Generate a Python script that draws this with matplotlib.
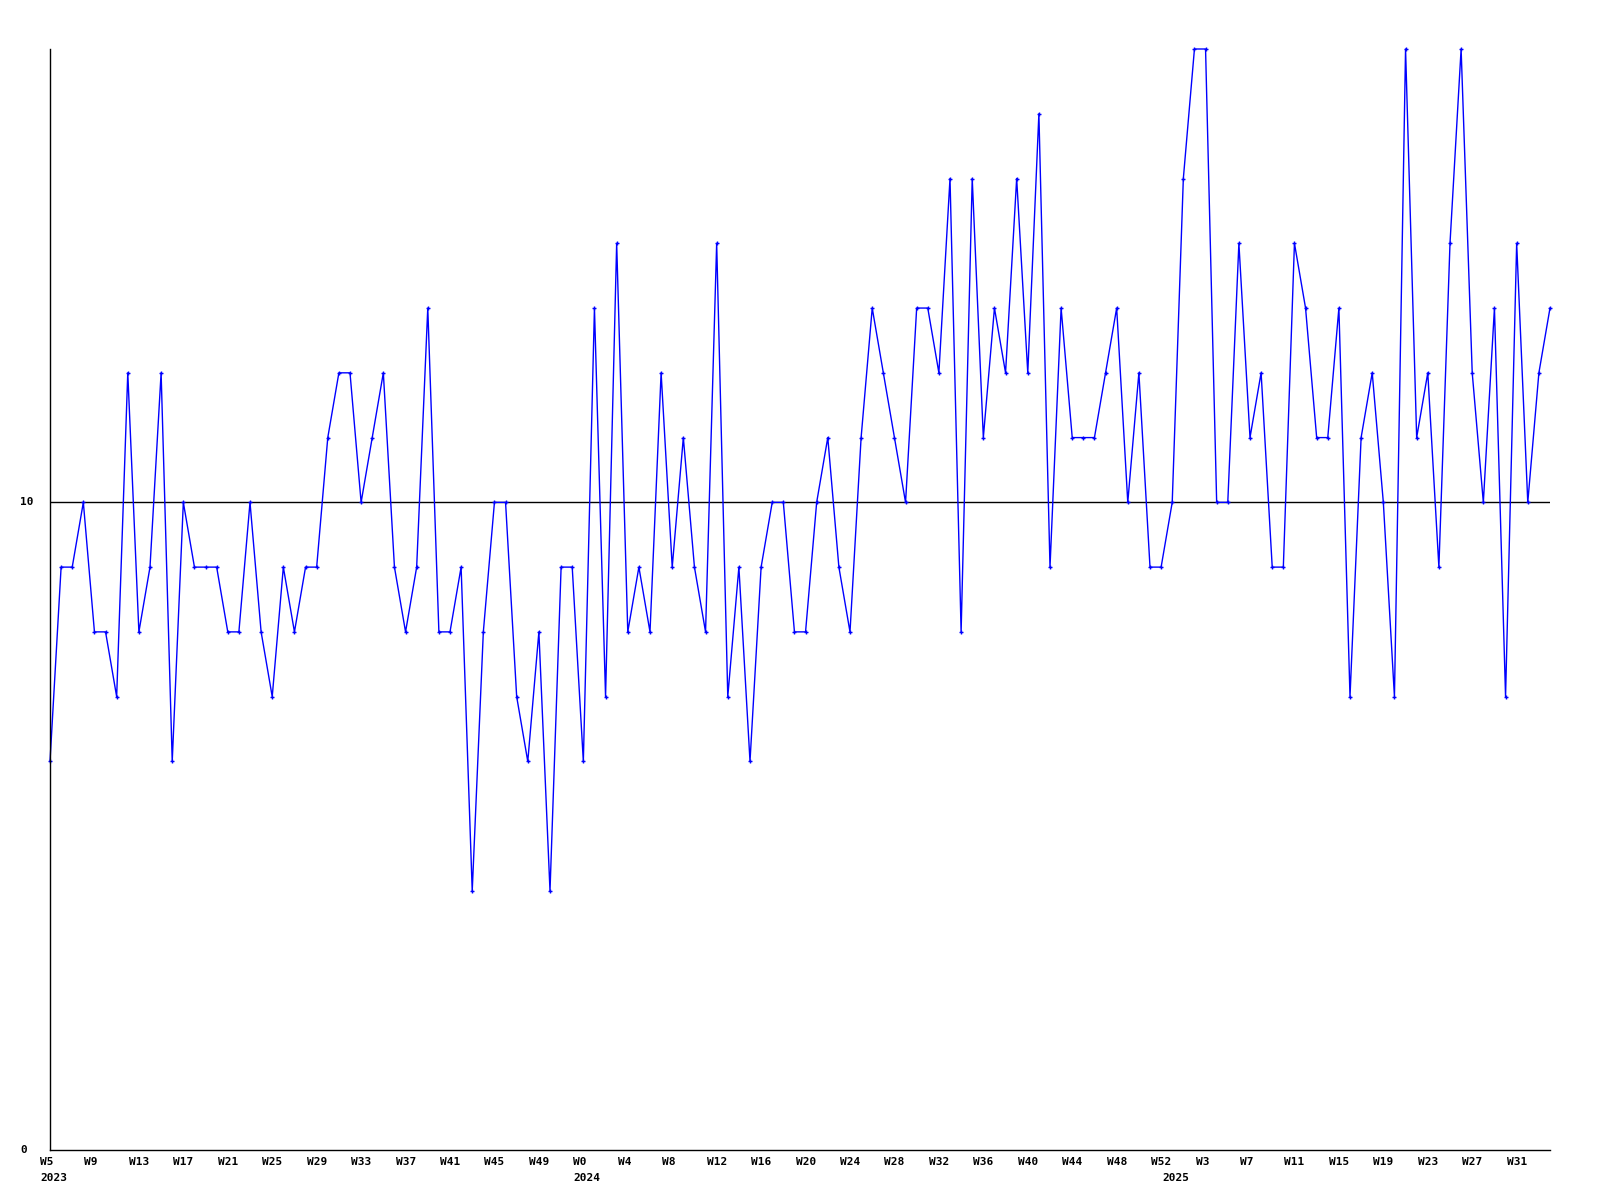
import numpy as np
import matplotlib
matplotlib.use("Agg")
import matplotlib.pyplot as plt
from matplotlib.transforms import ScaledTranslation, blended_transform_factory

# weekly values
weeks_2023 = list(range(5, 53))
values_2023 = [6, 9, 9, 10, 8, 8, 7, 12, 8, 9,
               12, 6, 10, 9, 9, 9, 8, 8, 10, 8,
               7, 9, 8, 9, 9, 11, 12, 12, 10, 11,
               12, 9, 8, 9, 13, 8, 8, 9, 4, 8,
               10, 10, 7, 6, 8, 4, 9, 9]

weeks_2024 = list(range(0, 53))
values_2024 = [6, 13, 7, 14, 8, 9, 8,
               12, 9, 11, 9, 8, 14, 7, 9, 6, 9, 10, 10, 8, 8, 10, 11, 9, 8,
               11, 13, 12, 11, 10, 13, 13, 12, 15, 8, 15, 11, 13, 12, 15, 12, 16, 9,
               13, 11, 11, 11, 12, 13, 10, 12, 9, 9]

weeks_2025 = list(range(0, 35))
values_2025 = [10, 15, 17, 17, 10, 10, 14, 11,
               12, 9, 9, 14, 13, 11, 11, 13, 7, 11, 12, 10, 7, 17, 11, 12, 9,
               14, 17, 12, 10, 13, 7, 14, 10, 12, 13]

years = [2023, 2024, 2025]
ref_value = 10
y_labels = [0, 10]

weeks = weeks_2023 + weeks_2024 + weeks_2025
values = values_2023 + values_2024 + values_2025
year_of = [2023] * len(weeks_2023) + [2024] * len(weeks_2024) + [2025] * len(weeks_2025)
x = np.arange(len(values))

fig = plt.figure(figsize=(16, 12), dpi=100)
ax = fig.add_axes([50 / 1600, 50 / 1200, 1500 / 1600, 1101 / 1200])

ax.axhline(ref_value, color="black", lw=1)
ax.plot(x, values, color="#0000ff", lw=1, marker="+", ms=3, mew=1, clip_on=False)

ax.set_xlim(0, len(values) - 1)
ax.set_ylim(0, 17)
ax.spines["top"].set_visible(False)
ax.spines["right"].set_visible(False)
for s in ["left", "bottom"]:
    ax.spines[s].set_linewidth(1)
    ax.spines[s].set_color("black")
ax.set_xticks([])
ax.set_yticks([])

font = dict(family="DejaVu Sans Mono", weight="bold", size=8)

# week labels every 4 weeks, left aligned a bit before the point
xt = ax.get_xaxis_transform()
off_w = xt + ScaledTranslation(-10 / 100, -7 / 100, fig.dpi_scale_trans)
off_y = xt + ScaledTranslation(-10 / 100, -23 / 100, fig.dpi_scale_trans)
for i in range(0, len(values), 4):
    ax.text(x[i], 0, "W%d" % weeks[i], transform=off_w, ha="left", va="top", **font)

# year labels under first week of each year
for yr in years:
    i = year_of.index(yr)
    ax.text(x[i], 0, str(yr), transform=off_y, ha="left", va="top", **font)

# y labels at the left edge of the figure
yt = blended_transform_factory(fig.transFigure, ax.transData)
for v in y_labels:
    ax.text(20 / 1600, v, str(v), transform=yt, ha="left", va="center", **font)

fig.savefig("out.png", dpi=100)
